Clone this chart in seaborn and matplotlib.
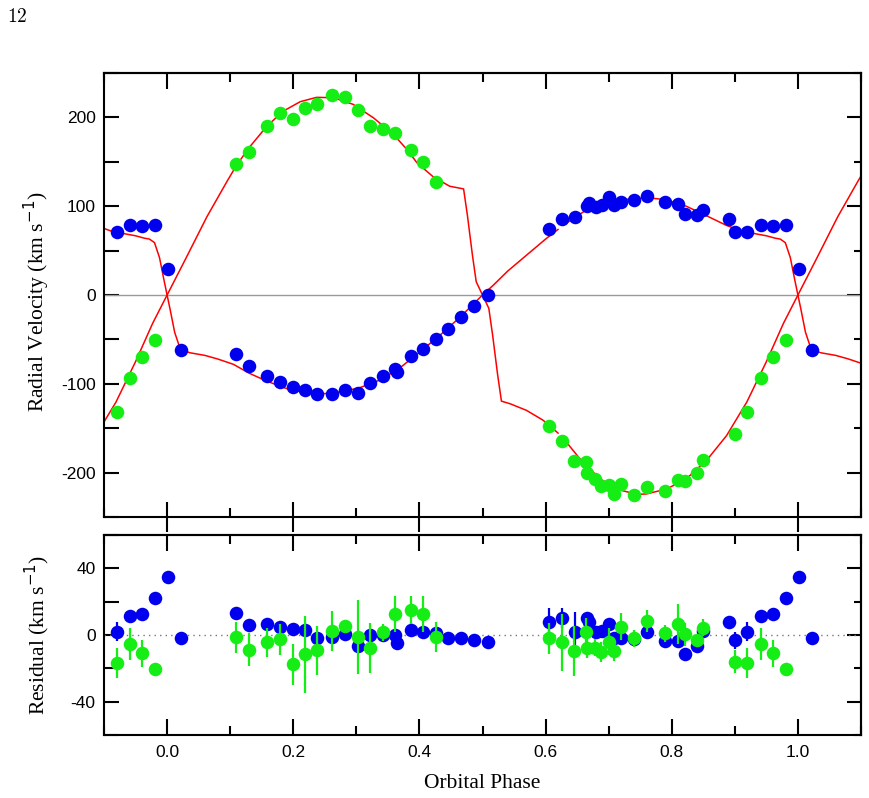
import numpy as np
import pandas as pd
import matplotlib
matplotlib.use("Agg")
import matplotlib.pyplot as plt
import seaborn as sns
from matplotlib.ticker import MultipleLocator

# primary (blue): phase, radial velocity, residual, residual error
p_phase = [0.001, 0.022, 0.109, 0.130, 0.158, 0.179, 0.199, 0.219, 0.238, 0.262,
           0.282, 0.302, 0.322, 0.342, 0.362, 0.365, 0.386, 0.406, 0.426, 0.446,
           0.466, 0.487, 0.508, 0.606, 0.626, 0.646, 0.665, 0.669, 0.680, 0.689,
           0.700, 0.708, 0.720, 0.740, 0.760, 0.790, 0.810, 0.821, 0.840, 0.850,
           0.890, 0.900, 0.920, 0.941, 0.961, 0.981]
p_rv = [29.4, -61.4, -65.9, -80.2, -90.8, -98.3, -103.6, -107.0, -111.9, -111.1,
        -106.6, -110.4, -98.7, -91.5, -83.6, -86.5, -68.6, -60.3, -49.0, -38.0,
        -24.9, -12.4, -0.4, 73.8, 85.9, 87.4, 100.2, 103.6, 99.1, 101.7,
        110.0, 100.9, 104.3, 106.6, 111.9, 104.7, 102.0, 90.7, 89.6, 96.0,
        85.9, 71.5, 71.5, 78.8, 77.2, 78.8]
p_res = [35.0, -1.6, 13.0, 6.0, 6.4, 5.0, 3.6, 2.8, -1.6, -1.0,
         0.6, -6.4, 0.0, 0.0, 0.0, -5.0, 3.2, 1.6, 1.0, -1.6,
         -1.9, -3.2, -4.4, 8.0, 10.0, 1.6, 10.0, 8.0, 1.6, 2.4,
         6.4, -2.0, -2.0, -2.4, 2.0, -3.6, -3.6, -11.1, -6.4, 2.4,
         8.0, -3.2, 2.0, 11.5, 12.7, 22.3]
p_err = [3, 2, 3, 3, 3, 3, 3, 3, 3, 3,
         3, 3, 3, 3, 3, 3, 4, 3, 3, 2,
         2, 2, 2, 8, 6, 12, 4, 4, 3, 3,
         3, 3, 3, 3, 3, 3, 3, 3, 3, 3,
         3, 5, 5.6, 3, 3, 3]

# secondary (green)
s_phase = [0.109, 0.130, 0.158, 0.179, 0.199, 0.219, 0.238, 0.262, 0.282, 0.302,
           0.322, 0.342, 0.362, 0.386, 0.406, 0.426, 0.606, 0.626, 0.645, 0.664,
           0.666, 0.679, 0.688, 0.700, 0.708, 0.720, 0.740, 0.760, 0.790, 0.810,
           0.821, 0.840, 0.850, 0.900, 0.920, 0.941, 0.961, 0.981]
s_rv = [147.7, 161.2, 190.2, 205.3, 198.5, 210.5, 215.0, 225.2, 222.6, 208.3,
        190.6, 187.2, 181.9, 163.8, 150.3, 127.3, -147.6, -164.6, -186.4, -187.9,
        -200.3, -207.5, -215.4, -213.6, -224.0, -212.8, -225.2, -216.6, -220.3, -208.3,
        -209.8, -200.3, -185.6, -156.3, -131.8, -93.4, -69.7, -50.1]
s_res = [-1.4, -8.8, -4.4, -2.4, -17.5, -11.5, -9.2, 2.4, 5.4, -1.2,
         -8.0, 1.6, 12.7, 15.0, 12.7, -1.2, -2.0, -4.4, -9.6, 2.0,
         -7.6, -7.6, -10.0, -4.0, -9.6, 5.0, -2.0, 8.4, 1.0, 6.4,
         0.4, -3.2, 4.4, -15.9, -16.8, -5.6, -10.9, -20.5]
s_err = [9.5, 10, 8.5, 9.3, 12.4, 23, 14.7, 12, 3, 22,
         15, 5, 11, 8.4, 10.6, 9.2, 9.5, 17, 15, 8,
         6, 5, 6, 8, 6, 8, 5, 6.5, 5, 12,
         7, 3, 5, 7, 9.2, 9.6, 8, 3]

# model curves over one period
mp_phase = [0.0, 0.005, 0.012, 0.020, 0.028, 0.036, 0.06, 0.08, 0.105, 0.13,
            0.158, 0.19, 0.22, 0.25, 0.275, 0.305, 0.34, 0.37, 0.40, 0.433,
            0.465, 0.50, 0.517, 0.54, 0.57, 0.60, 0.62, 0.629, 0.665, 0.70,
            0.74, 0.765, 0.79, 0.823, 0.855, 0.887, 0.913, 0.95, 0.964, 0.972,
            0.980, 0.988, 0.995, 1.0]
mp_rv = [0, -17, -42, -59, -63, -65, -68, -72, -78, -88,
         -97, -105.5, -109.5, -111, -109, -104.5, -95, -81.5, -64.5, -45,
         -24.5, 0, 11, 27, 45, 63, 74, 79, 96, 105,
         108.8, 109.2, 107.5, 100, 89.3, 78.3, 71.6, 66.7, 64, 63,
         59, 42, 17, 0]
ms_phase = [0.0, 0.031, 0.063, 0.095, 0.11, 0.13, 0.158, 0.184, 0.211, 0.237,
            0.264, 0.295, 0.327, 0.359, 0.38, 0.396, 0.422, 0.448, 0.470, 0.476,
            0.484, 0.490, 0.500, 0.510, 0.516, 0.524, 0.530, 0.544, 0.570, 0.596,
            0.620, 0.631, 0.6545, 0.686, 0.718, 0.745, 0.760, 0.792, 0.823, 0.855,
            0.887, 0.919, 0.950, 0.977, 1.0]
ms_rv = [0, 43, 88, 128, 146, 166, 190, 207, 217.7, 222.6,
         222.2, 214.7, 199.6, 180.8, 164, 149, 133, 122.5, 119.5, 90,
         45, 15, 0, -15, -45, -90, -119.5, -122.5, -130, -141,
         -155.6, -164, -184.5, -207, -219.6, -224.5, -224, -218.4, -207, -186.4,
         -158.2, -120.5, -75, -32, 0]

BLUE = "#0000ee"
GREEN = "#14ee14"
RED = "#ff0000"


def wrap(df, lo=-0.09, hi=1.09):
    # repeat the points one cycle either side
    out = pd.concat([df.assign(phase=df.phase + k) for k in (-1, 0, 1)])
    return out[(out.phase >= lo) & (out.phase <= hi)]


def model(ph, rv):
    d = pd.DataFrame({"phase": ph, "rv": rv})
    parts = []
    for k in (-1, 0, 1):
        c = d.assign(phase=d.phase + k)
        c["seg"] = 2 * (k + 1) + (d.phase > 0.625).astype(int)
        parts.append(c)
    return pd.concat(parts)


prim = wrap(pd.DataFrame({"phase": p_phase, "rv": p_rv, "res": p_res, "err": p_err}))
sec = wrap(pd.DataFrame({"phase": s_phase, "rv": s_rv, "res": s_res, "err": s_err}))

sns.set_style("ticks")
plt.rcParams["font.family"] = ["Liberation Sans", "DejaVu Sans"]
plt.rcParams["axes.linewidth"] = 1.5
plt.rcParams["axes.unicode_minus"] = False
for k in ("text.color", "axes.labelcolor", "xtick.color", "ytick.color", "axes.edgecolor"):
    plt.rcParams[k] = "black"

fig = plt.figure(figsize=(8.69, 7.98), dpi=100)
ax1 = fig.add_axes([0.1197, 0.3521, 0.8711, 0.5564])
ax2 = fig.add_axes([0.1197, 0.0789, 0.8711, 0.2506])

# top panel
ax1.axhline(0, color="#999999", lw=1, zorder=1)
for ph, rv in ((mp_phase, mp_rv), (ms_phase, ms_rv)):
    sns.lineplot(data=model(ph, rv), x="phase", y="rv", units="seg", estimator=None,
                 sort=False, color=RED, lw=1.1, ax=ax1, legend=False, zorder=2)
sns.scatterplot(data=prim, x="phase", y="rv", color=BLUE, s=95, linewidth=0,
                ax=ax1, legend=False, zorder=3)
sns.scatterplot(data=sec, x="phase", y="rv", color=GREEN, s=95, linewidth=0,
                ax=ax1, legend=False, zorder=4)
ax1.set_xlim(-0.1, 1.1)
ax1.set_ylim(-250, 250)

# residual panel
ax2.axhline(0, color="#777777", lw=1, ls=(0, (1, 3)), zorder=1)
ax2.errorbar(prim.phase, prim.res, yerr=prim.err, fmt="none", ecolor=BLUE,
             elinewidth=1.6, zorder=2)
sns.scatterplot(data=prim, x="phase", y="res", color=BLUE, s=95, linewidth=0,
                ax=ax2, legend=False, zorder=3)
ax2.errorbar(sec.phase, sec.res, yerr=sec.err, fmt="none", ecolor=GREEN,
             elinewidth=1.6, zorder=4)
sns.scatterplot(data=sec, x="phase", y="res", color=GREEN, s=95, linewidth=0,
                ax=ax2, legend=False, zorder=5)
ax2.set_xlim(-0.1, 1.1)
ax2.set_ylim(-60, 60)

label_font = dict(family="Liberation Serif", size=15.5)
for ax, ymaj, ymin in ((ax1, 100, 50), (ax2, 40, 20)):
    ax.xaxis.set_major_locator(MultipleLocator(0.2))
    ax.xaxis.set_minor_locator(MultipleLocator(0.1))
    ax.yaxis.set_major_locator(MultipleLocator(ymaj))
    ax.yaxis.set_minor_locator(MultipleLocator(ymin))
    ax.tick_params(which="both", direction="in", width=1.5, right=False, top=False,
                   labelsize=12.5)
    ax.tick_params(axis="y", which="both", length=11, pad=6)
    ax.tick_params(axis="x", which="major", length=11.5, pad=7)
    ax.tick_params(axis="x", which="minor", length=6.5)
    top = ax.secondary_xaxis("top")
    top.xaxis.set_major_locator(MultipleLocator(0.2))
    top.xaxis.set_minor_locator(MultipleLocator(0.1))
    top.tick_params(which="both", direction="in", width=1.5, labeltop=False)
    top.tick_params(which="major", length=11.5)
    top.tick_params(which="minor", length=6.5)
    rgt = ax.secondary_yaxis("right")
    rgt.yaxis.set_major_locator(MultipleLocator(ymaj))
    rgt.yaxis.set_minor_locator(MultipleLocator(ymin))
    rgt.tick_params(which="both", direction="in", width=1.5, labelright=False)
    rgt.tick_params(which="major", length=10)
    rgt.tick_params(which="minor", length=5)
    for s in list(top.spines.values()) + list(rgt.spines.values()):
        s.set_linewidth(1.5)

ax1.tick_params(axis="x", which="major", direction="inout", length=22, labelbottom=False)
ax1.set_xlabel("")
ax1.set_ylabel("Radial Velocity (km s$^{-1}$)", **label_font)
ax1.yaxis.set_label_coords(-0.0686, 0.484)

ax2.set_xlabel("Orbital Phase", labelpad=10, **label_font)
ax2.set_ylabel("Residual (km s$^{-1}$)", **label_font)
ax2.yaxis.set_label_coords(-0.0686, 0.5)

fig.text(0.008, 0.99, "$12$", math_fontfamily="cm", fontsize=14, va="top", ha="left")

fig.savefig("out.png", dpi=100)
